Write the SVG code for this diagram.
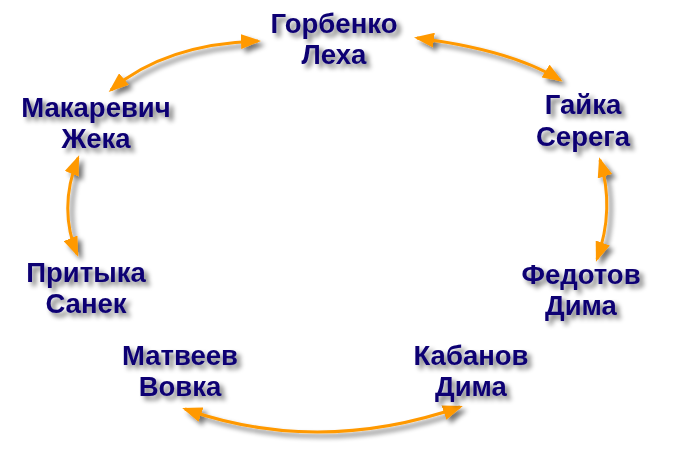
<svg xmlns="http://www.w3.org/2000/svg" width="696" height="462" viewBox="0 0 696 462">
<style>
.t{font-family:"Liberation Sans",Arial,sans-serif;font-weight:bold;font-size:27.5px;fill:#0c0073;text-anchor:middle;filter:url(#sh)}
.c{fill:none;stroke:#ff9900;stroke-width:3;marker-start:url(#ah);marker-end:url(#ah)}
</style>
<defs>
<filter id="sh" x="-20%" y="-30%" width="150%" height="180%">
<feGaussianBlur in="SourceAlpha" stdDeviation="2.5"/>
<feOffset dx="4" dy="4" result="b"/>
<feComponentTransfer in="b" result="s"><feFuncA type="linear" slope="0.55"/></feComponentTransfer>
<feMerge><feMergeNode in="s"/><feMergeNode in="SourceGraphic"/></feMerge>
</filter>
<marker id="ah" viewBox="0 0 20 15" refX="17" refY="7.5" markerWidth="20" markerHeight="15" orient="auto-start-reverse" markerUnits="userSpaceOnUse">
<path d="M0,0 L20,7.5 L0,15 z" fill="#ff9900"/>
</marker>
</defs>
<rect width="696" height="462" fill="#ffffff"/>
<g id="connectors" filter="url(#sh)">
<path class="c" d="M258,41 Q165,44 111,90"/>
<path class="c" d="M417,38 Q512,50 560,80"/>
<path class="c" d="M78,158 Q58,208 77,254"/>
<path class="c" d="M600,160 Q615,209 597,259"/>
<path class="c" d="M185,409 Q318,456 460,407"/>
</g>
<g id="n-gorbenko"><text class="t" x="334" y="33">Горбенко</text><text class="t" x="334" y="64">Леха</text></g>
<g id="n-gayka"><text class="t" x="583" y="114">Гайка</text><text class="t" x="583" y="146">Серега</text></g>
<g id="n-makarevich"><text class="t" x="96" y="117">Макаревич</text><text class="t" x="96" y="148">Жека</text></g>
<g id="n-prityka"><text class="t" x="86" y="282">Притыка</text><text class="t" x="86" y="313">Санек</text></g>
<g id="n-fedotov"><text class="t" x="581" y="284">Федотов</text><text class="t" x="581" y="315">Дима</text></g>
<g id="n-matveev"><text class="t" x="180" y="365">Матвеев</text><text class="t" x="180" y="396">Вовка</text></g>
<g id="n-kabanov"><text class="t" x="471" y="365">Кабанов</text><text class="t" x="471" y="396">Дима</text></g>
</svg>
